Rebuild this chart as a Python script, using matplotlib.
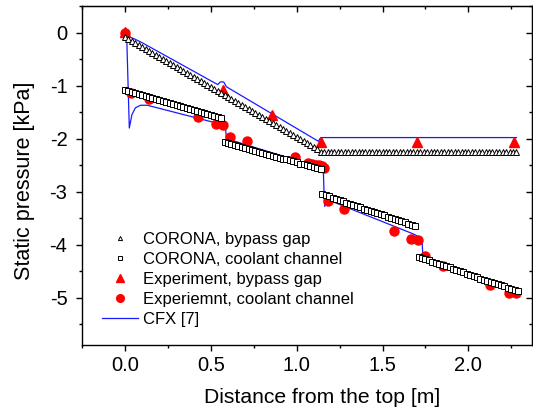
import matplotlib
matplotlib.use("Agg")
import matplotlib.pyplot as plt
from matplotlib.ticker import MultipleLocator

plt.rcParams['font.family'] = ['Liberation Sans', 'DejaVu Sans']

# CORONA, bypass gap (open triangles)
tri_x = [0.00, 0.02, 0.04, 0.06, 0.08, 0.10, 0.12, 0.14, 0.16, 0.18,
         0.20, 0.22, 0.24, 0.26, 0.28, 0.30, 0.32, 0.34, 0.36, 0.38,
         0.40, 0.42, 0.44, 0.46, 0.48, 0.50, 0.52, 0.54, 0.56, 0.58,
         0.60, 0.62, 0.64, 0.66, 0.68, 0.70, 0.72, 0.74, 0.76, 0.78,
         0.80, 0.82, 0.84, 0.86, 0.88, 0.90, 0.92, 0.94, 0.96, 0.98,
         1.00, 1.02, 1.04, 1.06, 1.08, 1.10, 1.12,
         1.14, 1.16, 1.18, 1.20, 1.22, 1.24, 1.26, 1.28, 1.30, 1.32,
         1.34, 1.36, 1.38, 1.40, 1.42, 1.44, 1.46, 1.48, 1.50, 1.52,
         1.54, 1.56, 1.58, 1.60, 1.62, 1.64, 1.66, 1.68, 1.70, 1.72,
         1.74, 1.76, 1.78, 1.80, 1.82, 1.84, 1.86, 1.88, 1.90, 1.92,
         1.94, 1.96, 1.98, 2.00, 2.02, 2.04, 2.06, 2.08, 2.10, 2.12,
         2.14, 2.16, 2.18, 2.20, 2.22, 2.24, 2.26, 2.28]
tri_y = [-0.08, -0.12, -0.16, -0.19, -0.23, -0.27, -0.31, -0.34, -0.38, -0.42,
         -0.46, -0.49, -0.53, -0.57, -0.61, -0.65, -0.68, -0.72, -0.76, -0.80,
         -0.83, -0.87, -0.91, -0.95, -0.98, -1.02, -1.06, -1.10, -1.14, -1.17,
         -1.21, -1.25, -1.29, -1.32, -1.36, -1.40, -1.44, -1.47, -1.51, -1.55,
         -1.59, -1.63, -1.66, -1.70, -1.74, -1.78, -1.81, -1.85, -1.89, -1.93,
         -1.97, -2.00, -2.04, -2.08, -2.12, -2.15, -2.19,
         -2.26, -2.26, -2.26, -2.26, -2.26, -2.26, -2.26, -2.26, -2.26, -2.26,
         -2.26, -2.26, -2.26, -2.26, -2.26, -2.26, -2.26, -2.26, -2.26, -2.26,
         -2.26, -2.26, -2.26, -2.26, -2.26, -2.26, -2.26, -2.26, -2.26, -2.26,
         -2.26, -2.26, -2.26, -2.26, -2.26, -2.26, -2.26, -2.26, -2.26, -2.26,
         -2.26, -2.26, -2.26, -2.26, -2.26, -2.26, -2.26, -2.26, -2.26, -2.26,
         -2.26, -2.26, -2.26, -2.26, -2.26, -2.26, -2.26, -2.26]

# CORONA, coolant channel (open squares)
sq_x = [0.00, 0.02, 0.04, 0.06, 0.08, 0.10, 0.12, 0.14, 0.16, 0.18,
        0.20, 0.22, 0.24, 0.26, 0.28, 0.30, 0.32, 0.34, 0.36, 0.38,
        0.40, 0.42, 0.44, 0.46, 0.48, 0.50, 0.52, 0.54, 0.56,
        0.58, 0.60, 0.62, 0.64, 0.66, 0.68, 0.70, 0.72, 0.74, 0.76,
        0.78, 0.80, 0.82, 0.84, 0.86, 0.88, 0.90, 0.92, 0.94, 0.96,
        0.98, 1.00, 1.02, 1.04, 1.06, 1.08, 1.10, 1.12, 1.14,
        1.15, 1.17, 1.19, 1.21, 1.23, 1.25, 1.27, 1.29, 1.31, 1.33,
        1.35, 1.37, 1.39, 1.41, 1.43, 1.45, 1.47, 1.49, 1.51, 1.53,
        1.55, 1.57, 1.59, 1.61, 1.63, 1.65, 1.67, 1.69,
        1.71, 1.73, 1.75, 1.77, 1.79, 1.81, 1.83, 1.85, 1.87, 1.89,
        1.91, 1.93, 1.95, 1.97, 1.99, 2.01, 2.03, 2.05, 2.07, 2.09,
        2.11, 2.13, 2.15, 2.17, 2.19, 2.21, 2.23, 2.25, 2.27, 2.29]
sq_y = [-1.08, -1.10, -1.12, -1.14, -1.16, -1.17, -1.19, -1.21, -1.23, -1.25,
        -1.27, -1.29, -1.31, -1.33, -1.34, -1.36, -1.38, -1.40, -1.42, -1.44,
        -1.46, -1.48, -1.50, -1.51, -1.53, -1.55, -1.57, -1.59, -1.61,
        -2.07, -2.09, -2.11, -2.12, -2.14, -2.16, -2.18, -2.20, -2.21, -2.23,
        -2.25, -2.27, -2.29, -2.30, -2.32, -2.34, -2.36, -2.38, -2.39, -2.41,
        -2.43, -2.45, -2.47, -2.48, -2.50, -2.52, -2.54, -2.56, -2.57,
        -3.05, -3.07, -3.09, -3.12, -3.14, -3.16, -3.18, -3.21, -3.23, -3.25,
        -3.27, -3.29, -3.32, -3.34, -3.36, -3.38, -3.41, -3.43, -3.45, -3.47,
        -3.49, -3.52, -3.54, -3.56, -3.58, -3.61, -3.63, -3.65,
        -4.23, -4.25, -4.28, -4.30, -4.32, -4.34, -4.37, -4.39, -4.41, -4.43,
        -4.46, -4.48, -4.50, -4.52, -4.55, -4.57, -4.59, -4.61, -4.64, -4.66,
        -4.68, -4.70, -4.73, -4.75, -4.77, -4.79, -4.82, -4.84, -4.86, -4.88]

# Experiment, bypass gap
exp_gap_x = [0.00, 0.57, 0.855, 1.14, 1.70, 2.265]
exp_gap_y = [0.01, -1.08, -1.55, -2.07, -2.07, -2.07]

# Experiment, coolant channel
exp_ch_x = [0.00, 0.035, 0.137, 0.424, 0.529, 0.57, 0.612, 0.709, 0.99, 1.067,
            1.09, 1.11, 1.13, 1.15, 1.16, 1.184, 1.277, 1.567, 1.665, 1.707,
            1.746, 1.852, 2.128, 2.236, 2.275]
exp_ch_y = [0.00, -1.14, -1.245, -1.59, -1.72, -1.74, -1.96, -2.04, -2.34, -2.46,
            -2.48, -2.50, -2.49, -2.52, -2.55, -3.18, -3.33, -3.75, -3.89, -3.92,
            -4.22, -4.41, -4.77, -4.91, -4.92]

# CFX [7], bypass gap
cfx_gap_x = [0.00, 0.05, 0.10, 0.54, 0.555, 0.575, 0.59, 1.126, 1.14, 2.28]
cfx_gap_y = [-0.05, -0.11, -0.19, -0.98, -0.93, -0.93, -1.02, -2.05, -1.98, -1.98]

# CFX [7], coolant channel
cfx_ch_x = [0.01, 0.025, 0.04, 0.06, 0.09, 0.13, 0.585, 0.59, 1.14, 1.155,
            1.16, 1.163, 1.17, 1.68, 1.72, 1.73, 1.735, 2.28]
cfx_ch_y = [-0.08, -1.80, -1.55, -1.42, -1.37, -1.37, -1.75, -2.00, -2.55, -2.60,
            -3.10, -3.28, -3.14, -3.80, -3.87, -3.92, -4.24, -4.93]

fig = plt.figure(figsize=(5.33, 4.12), dpi=100)
ax = fig.add_axes([0.154, 0.162, 0.844, 0.823])

ax.plot(cfx_gap_x, cfx_gap_y, color='#1a1aff', lw=0.9, zorder=2)
ax.plot(cfx_ch_x, cfx_ch_y, color='#1a1aff', lw=0.9, zorder=2)

ax.plot(exp_gap_x, exp_gap_y, '^', color='red', ms=7, mec='red', ls='none', zorder=3)
ax.plot(exp_ch_x, exp_ch_y, 'o', color='red', ms=6.5, mec='red', ls='none', zorder=3)

ax.plot(tri_x, tri_y, '^', mfc='white', mec='black', ms=4, mew=0.7, ls='none', zorder=4)
ax.plot(sq_x, sq_y, 's', mfc='white', mec='black', ms=4, mew=0.7, ls='none', zorder=4)

# legend handles
h1, = ax.plot([], [], '^', mfc='white', mec='black', ms=3, mew=0.7, ls='none',
              label='CORONA, bypass gap')
h2, = ax.plot([], [], 's', mfc='white', mec='black', ms=3, mew=0.7, ls='none',
              label='CORONA, coolant channel')
h3, = ax.plot([], [], '^', color='red', ms=6, ls='none', label='Experiment, bypass gap')
h4, = ax.plot([], [], 'o', color='red', ms=5.5, ls='none', label='Experiemnt, coolant channel')
h5, = ax.plot([], [], color='#1a1aff', lw=0.9, label='CFX [7]')
ax.legend(handles=[h1, h2, h3, h4, h5], loc='upper left', bbox_to_anchor=(0.029, 0.355),
          frameon=False, fontsize=12, handlelength=2.2, handletextpad=0.28,
          labelspacing=0.31, borderaxespad=0.0)

ax.set_xlim(-0.25, 2.37)
ax.set_ylim(-5.9, 0.5)
ax.xaxis.set_major_locator(MultipleLocator(0.5))
ax.xaxis.set_minor_locator(MultipleLocator(0.25))
ax.yaxis.set_major_locator(MultipleLocator(1))
ax.yaxis.set_minor_locator(MultipleLocator(0.5))
ax.xaxis.set_major_formatter(plt.FormatStrFormatter('%.1f'))
ax.yaxis.set_major_formatter(plt.FormatStrFormatter('%d'))
ax.tick_params(which='major', direction='out', length=4.5, width=1, labelsize=14.5)
ax.tick_params(which='minor', direction='out', length=2.5, width=1)
ax.tick_params(axis='y', which='major', pad=6)

top = ax.secondary_xaxis('top')
top.xaxis.set_major_locator(MultipleLocator(0.5))
top.xaxis.set_minor_locator(MultipleLocator(0.25))
top.tick_params(which='major', direction='in', length=4.5, width=1, labeltop=False)
top.tick_params(which='minor', direction='in', length=2.5, width=1)
right = ax.secondary_yaxis('right')
right.yaxis.set_major_locator(MultipleLocator(1))
right.yaxis.set_minor_locator(MultipleLocator(0.5))
right.tick_params(which='major', direction='in', length=4.5, width=1, labelright=False)
right.tick_params(which='minor', direction='in', length=2.5, width=1)

for s in ax.spines.values():
    s.set_linewidth(1)

ax.set_xlabel('Distance from the top [m]', fontsize=15.2)
ax.set_ylabel('Static pressure [kPa]', fontsize=15.5)
ax.xaxis.set_label_coords(0.533, -0.125)
ax.yaxis.set_label_coords(-0.105, 0.485)

fig.savefig('out.png', dpi=100)
